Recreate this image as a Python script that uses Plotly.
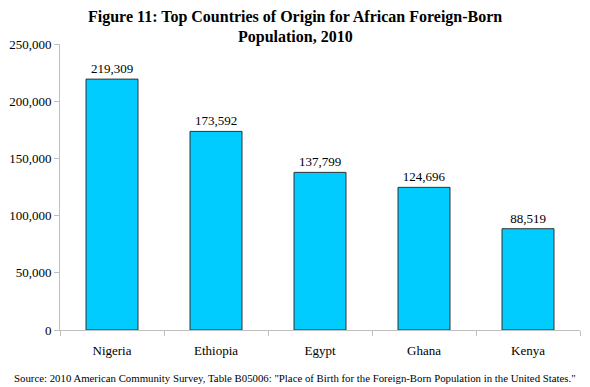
import plotly.graph_objects as go

countries = ["Nigeria", "Ethiopia", "Egypt", "Ghana", "Kenya"]
population = [219309, 173592, 137799, 124696, 88519]
y_ticks = [0, 50000, 100000, 150000, 200000, 250000]
y_tick_labels = ["0", "50,000", "100,000", "150,000", "200,000", "250,000"]
title_lines = ["Figure 11: Top Countries of Origin for African Foreign-Born", "Population, 2010"]
source_text = 'Source: 2010 American Community Survey, Table B05006: "Place of Birth for the Foreign-Born Population in the United States."'

font_family = "Liberation Serif"

fig = go.Figure(
    go.Bar(
        x=countries,
        y=population,
        marker=dict(color="#00CCFF", line=dict(color="#333333", width=1)),
        text=[f"{v:,}" for v in population],
        textposition="outside",
        textfont=dict(family=font_family, size=13, color="black"),
        cliponaxis=False,
    )
)

annotations = [
    dict(
        text=f"<b>{title_lines[0]}</b>",
        xref="paper", yref="paper", x=0.452, y=1.094,
        xanchor="center", yanchor="middle", showarrow=False,
        font=dict(family=font_family, size=16, color="black"),
    ),
    dict(
        text=f"<b>{title_lines[1]}</b>",
        xref="paper", yref="paper", x=0.452, y=1.0245,
        xanchor="center", yanchor="middle", showarrow=False,
        font=dict(family=font_family, size=16, color="black"),
    ),
    dict(
        text=source_text,
        xref="paper", yref="paper", x=0.452, y=-0.168,
        xanchor="center", yanchor="middle", showarrow=False,
        font=dict(family=font_family, size=10.8, color="black"),
    ),
]

fig.update_layout(
    width=590,
    height=387,
    margin=dict(l=60, r=10, t=44, b=57),
    paper_bgcolor="white",
    plot_bgcolor="white",
    bargap=0.5,
    showlegend=False,
    font=dict(family=font_family, size=13, color="black"),
    xaxis=dict(
        showline=True,
        linecolor="#BFBFBF",
        linewidth=1,
        ticks="outside",
        tickson="boundaries",
        ticklen=5,
        tickcolor="#BFBFBF",
        showgrid=False,
        ticklabelstandoff=8,
        tickfont=dict(family=font_family, size=13, color="black"),
    ),
    yaxis=dict(
        range=[0, 250000],
        tickvals=y_ticks,
        ticktext=y_tick_labels,
        showline=True,
        linecolor="#BFBFBF",
        linewidth=1,
        ticks="outside",
        ticklen=5,
        tickcolor="#BFBFBF",
        showgrid=False,
        zeroline=False,
        tickfont=dict(family=font_family, size=13, color="black"),
    ),
    annotations=annotations,
)

fig.write_html(
    "out.html",
    config={"displayModeBar": False},
    post_script="document.body.style.margin='0';document.body.style.overflow='hidden';",
)
